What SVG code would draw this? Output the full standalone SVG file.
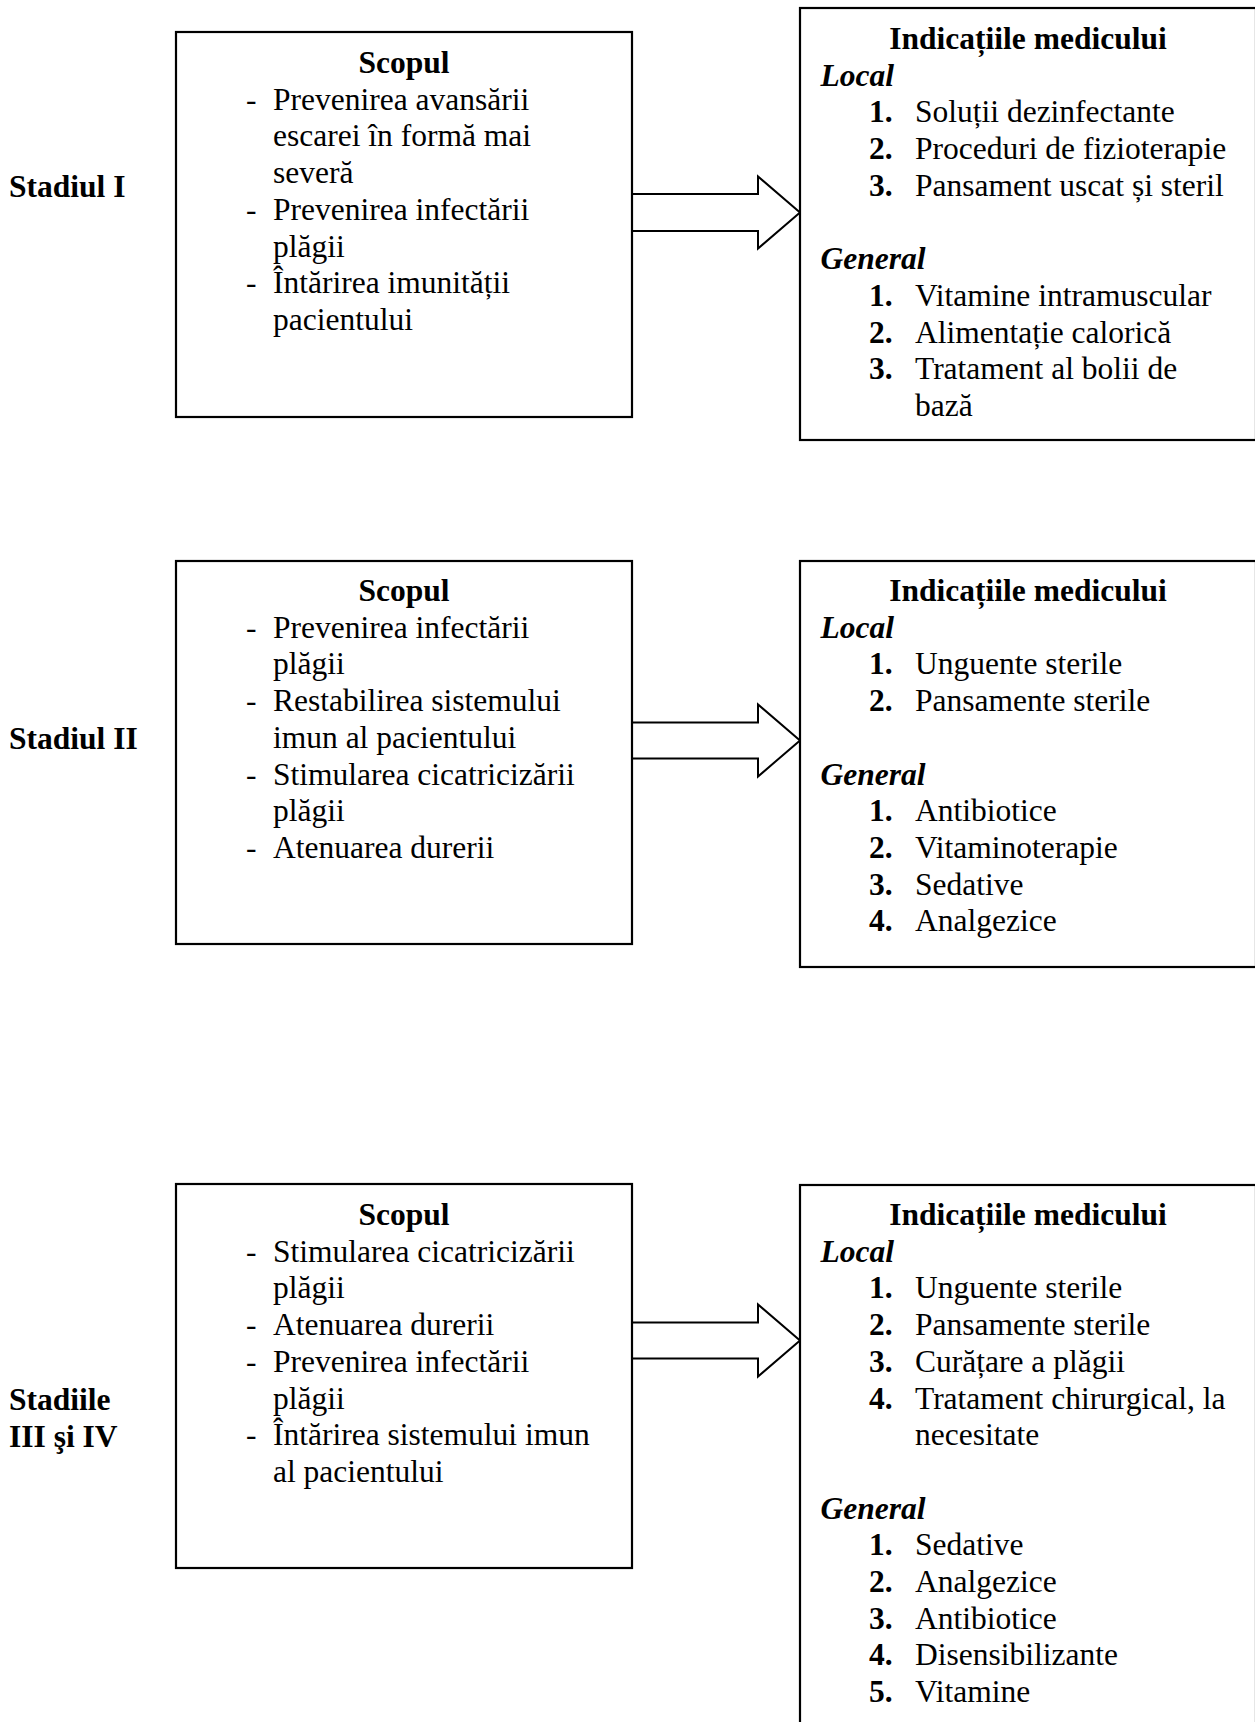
<svg xmlns="http://www.w3.org/2000/svg" width="1255" height="1722" viewBox="0 0 1255 1722">
<style>
  text { font-family: "Liberation Serif", "Times New Roman", serif; font-size: 31.5px; fill: #000; }
  .b { font-weight: bold; }
  .bi { font-weight: bold; font-style: italic; }
  .c { text-anchor: middle; }
  .box { fill: #fff; stroke: #000; stroke-width: 2.2; }
  .arrow { fill: #fff; stroke: #000; stroke-width: 2; stroke-linejoin: miter; }
</style>
<rect x="0" y="0" width="1255" height="1722" fill="#fff"/>

<g id="connectors">
  <path class="arrow" d="M632,194 H758 V176.5 L800,212.5 L758,248.5 V231 H632 Z"/>
  <path class="arrow" d="M632,722.5 H758 V704.5 L800,740.5 L758,776.5 V758.5 H632 Z"/>
  <path class="arrow" d="M632,1322.5 H758 V1304.5 L800,1340.5 L758,1376.5 V1358.5 H632 Z"/>
</g>

<g id="label-stage1"><text class="b" x="9" y="197">Stadiul I</text></g>
<g id="label-stage2"><text class="b" x="9" y="749">Stadiul II</text></g>
<g id="label-stage3">
  <text class="b" x="9" y="1410">Stadiile</text>
  <text class="b" x="9" y="1447">III şi IV</text>
</g>

<g id="scop1">
  <rect class="box" x="176" y="32" width="456" height="385"/>
  <text class="b c" x="404" y="73">Scopul</text>
  <text x="246" y="109.7">-</text><text x="273" y="109.7">Prevenirea avansării</text>
  <text x="273" y="146.4">escarei în formă mai</text>
  <text x="273" y="183.1">severă</text>
  <text x="246" y="219.8">-</text><text x="273" y="219.8">Prevenirea infectării</text>
  <text x="273" y="256.5">plăgii</text>
  <text x="246" y="293.2">-</text><text x="273" y="293.2">Întărirea imunității</text>
  <text x="273" y="329.9">pacientului</text>
</g>

<g id="indicatii1">
  <rect class="box" x="800" y="8" width="456" height="432"/>
  <text class="b c" x="1028" y="49">Indicațiile medicului</text>
  <text class="bi" x="820.5" y="85.7">Local</text>
  <text class="b" x="869" y="122.4">1.</text><text x="915" y="122.4">Soluții dezinfectante</text>
  <text class="b" x="869" y="159.1">2.</text><text x="915" y="159.1">Proceduri de fizioterapie</text>
  <text class="b" x="869" y="195.8">3.</text><text x="915" y="195.8">Pansament uscat și steril</text>
  <text class="bi" x="820.5" y="269.2">General</text>
  <text class="b" x="869" y="305.9">1.</text><text x="915" y="305.9">Vitamine intramuscular</text>
  <text class="b" x="869" y="342.6">2.</text><text x="915" y="342.6">Alimentație calorică</text>
  <text class="b" x="869" y="379.3">3.</text><text x="915" y="379.3">Tratament al bolii de</text>
  <text x="915" y="416">bază</text>
</g>

<g id="scop2">
  <rect class="box" x="176" y="561" width="456" height="383"/>
  <text class="b c" x="404" y="601">Scopul</text>
  <text x="246" y="637.7">-</text><text x="273" y="637.7">Prevenirea infectării</text>
  <text x="273" y="674.4">plăgii</text>
  <text x="246" y="711.1">-</text><text x="273" y="711.1">Restabilirea sistemului</text>
  <text x="273" y="747.8">imun al pacientului</text>
  <text x="246" y="784.5">-</text><text x="273" y="784.5">Stimularea cicatricizării</text>
  <text x="273" y="821.2">plăgii</text>
  <text x="246" y="857.9">-</text><text x="273" y="857.9">Atenuarea durerii</text>
</g>

<g id="indicatii2">
  <rect class="box" x="800" y="561" width="456" height="406"/>
  <text class="b c" x="1028" y="601">Indicațiile medicului</text>
  <text class="bi" x="820.5" y="637.7">Local</text>
  <text class="b" x="869" y="674.4">1.</text><text x="915" y="674.4">Unguente sterile</text>
  <text class="b" x="869" y="711.1">2.</text><text x="915" y="711.1">Pansamente sterile</text>
  <text class="bi" x="820.5" y="784.5">General</text>
  <text class="b" x="869" y="821.2">1.</text><text x="915" y="821.2">Antibiotice</text>
  <text class="b" x="869" y="857.9">2.</text><text x="915" y="857.9">Vitaminoterapie</text>
  <text class="b" x="869" y="894.6">3.</text><text x="915" y="894.6">Sedative</text>
  <text class="b" x="869" y="931.3">4.</text><text x="915" y="931.3">Analgezice</text>
</g>

<g id="scop3">
  <rect class="box" x="176" y="1184" width="456" height="384"/>
  <text class="b c" x="404" y="1225">Scopul</text>
  <text x="246" y="1261.7">-</text><text x="273" y="1261.7">Stimularea cicatricizării</text>
  <text x="273" y="1298.4">plăgii</text>
  <text x="246" y="1335.1">-</text><text x="273" y="1335.1">Atenuarea durerii</text>
  <text x="246" y="1371.8">-</text><text x="273" y="1371.8">Prevenirea infectării</text>
  <text x="273" y="1408.5">plăgii</text>
  <text x="246" y="1445.2">-</text><text x="273" y="1445.2">Întărirea sistemului imun</text>
  <text x="273" y="1481.9">al pacientului</text>
</g>

<g id="indicatii3">
  <rect class="box" x="800" y="1185" width="456" height="560"/>
  <text class="b c" x="1028" y="1225">Indicațiile medicului</text>
  <text class="bi" x="820.5" y="1261.7">Local</text>
  <text class="b" x="869" y="1298.4">1.</text><text x="915" y="1298.4">Unguente sterile</text>
  <text class="b" x="869" y="1335.1">2.</text><text x="915" y="1335.1">Pansamente sterile</text>
  <text class="b" x="869" y="1371.8">3.</text><text x="915" y="1371.8">Curățare a plăgii</text>
  <text class="b" x="869" y="1408.5">4.</text><text x="915" y="1408.5">Tratament chirurgical, la</text>
  <text x="915" y="1445.2">necesitate</text>
  <text class="bi" x="820.5" y="1518.6">General</text>
  <text class="b" x="869" y="1555.3">1.</text><text x="915" y="1555.3">Sedative</text>
  <text class="b" x="869" y="1592">2.</text><text x="915" y="1592">Analgezice</text>
  <text class="b" x="869" y="1628.7">3.</text><text x="915" y="1628.7">Antibiotice</text>
  <text class="b" x="869" y="1665.4">4.</text><text x="915" y="1665.4">Disensibilizante</text>
  <text class="b" x="869" y="1702.1">5.</text><text x="915" y="1702.1">Vitamine</text>
</g>
</svg>
